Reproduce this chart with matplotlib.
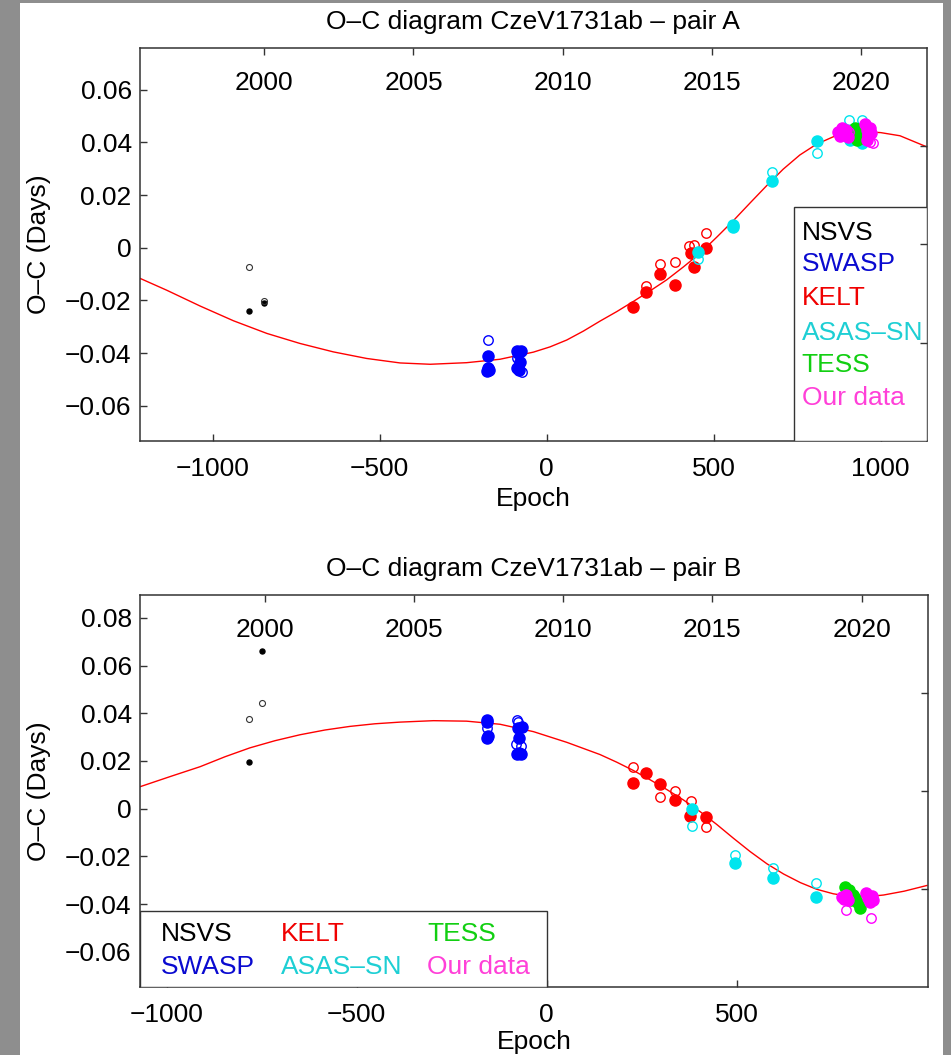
import matplotlib
matplotlib.use('Agg')
import matplotlib.pyplot as plt
from matplotlib.patches import Rectangle

plt.rcParams['font.family'] = ['Liberation Sans', 'DejaVu Sans']
plt.rcParams['font.size'] = 19
plt.rcParams['axes.unicode_minus'] = True

# ---------------- pair A ----------------
a_fit_E = [-1218, -1138, -1038, -938, -838, -739, -639, -539, -439, -349, -240, -140,
           -40, 10, 60, 110, 160, 210, 259, 309, 359, 409, 459, 509, 559, 609, 659,
           708, 758, 808, 858, 898, 938, 1000, 1058, 1138]
a_fit_oc = [-0.0116, -0.0161, -0.0221, -0.0277, -0.0325, -0.0363, -0.0395, -0.0420,
            -0.0437, -0.0442, -0.0436, -0.0423, -0.0396, -0.0376, -0.0350, -0.0316,
            -0.0278, -0.0242, -0.0204, -0.0164, -0.0122, -0.0073, -0.0021, 0.0040,
            0.0103, 0.0170, 0.0236, 0.0298, 0.0352, 0.0393, 0.0421, 0.0435, 0.0441,
            0.0437, 0.0425, 0.0383]

a_nsvs_E = [-893, -848]
a_nsvs_oc = [-0.0239, -0.0211]
a_nsvs2_E = [-893, -848]
a_nsvs2_oc = [-0.0072, -0.0201]

a_swasp_E = [-177, -180, -174, -177, -88, -78, -85, -80, -90, -84]
a_swasp_oc = [-0.0411, -0.0467, -0.0462, -0.0458, -0.0390, -0.0391, -0.0398, -0.0433,
              -0.0458, -0.0463]
a_swasp2_E = [-177, -75, -88]
a_swasp2_oc = [-0.0351, -0.0470, -0.0420]

a_kelt_E = [257, 296, 339, 384, 431, 441, 477]
a_kelt_oc = [-0.0226, -0.0167, -0.0101, -0.0143, -0.0021, -0.0072, 0.0000]
a_kelt2_E = [296, 339, 384, 427, 440, 477]
a_kelt2_oc = [-0.0145, -0.0062, -0.0053, 0.0007, 0.0011, 0.0057]

a_asas_E = [454, 559, 559, 676, 810, 908, 943]
a_asas_oc = [-0.0015, 0.0080, 0.0088, 0.0253, 0.0406, 0.0409, 0.0396]
a_asas2_E = [454, 676, 810, 906, 943]
a_asas2_oc = [-0.0044, 0.0289, 0.0358, 0.0485, 0.0485]

a_tess_E = [922, 928, 935, 942, 946, 930]
a_tess_oc = [0.0455, 0.0438, 0.0425, 0.0445, 0.0415, 0.0410]

a_our_E = [872, 878, 885, 890, 897, 902, 952, 958, 963, 968, 972, 960]
a_our_oc = [0.0440, 0.0425, 0.0455, 0.0432, 0.0445, 0.0420, 0.0470, 0.0445, 0.0425,
            0.0455, 0.0435, 0.0410]
a_our2_E = [968, 977, 905, 958]
a_our2_oc = [0.0402, 0.0398, 0.0440, 0.0430]

# ---------------- pair B ----------------
b_fit_E = [-1070, -990, -912, -846, -781, -715, -649, -583, -518, -452, -386, -298,
           -211, -123, -35, 53, 140, 184, 228, 272, 316, 360, 403, 447, 491, 535, 579,
           623, 667, 710, 754, 790, 824, 856, 886, 940, 1000]
b_fit_oc = [0.0092, 0.0135, 0.0176, 0.0218, 0.0255, 0.0285, 0.0310, 0.0330, 0.0345,
            0.0356, 0.0363, 0.0369, 0.0367, 0.0354, 0.0323, 0.0278, 0.0227, 0.0195,
            0.0160, 0.0121, 0.0080, 0.0036, -0.0012, -0.0066, -0.0124, -0.0180,
            -0.0231, -0.0274, -0.0310, -0.0338, -0.0357, -0.0366, -0.0369, -0.0367,
            -0.0362, -0.0346, -0.0322]

b_nsvs_E = [-748, -783]
b_nsvs_oc = [0.0661, 0.0197]
b_nsvs2_E = [-748, -783]
b_nsvs2_oc = [0.0442, 0.0377]

b_swasp_E = [-158, -158, -158, -155, -66, -75, -72, -79, -68, -73]
b_swasp_oc = [0.0372, 0.0362, 0.0298, 0.0303, 0.0344, 0.0340, 0.0295, 0.0229, 0.0229,
              0.0232]
b_swasp2_E = [-158, -79, -76, -82, -68]
b_swasp2_oc = [0.0337, 0.0372, 0.0362, 0.0271, 0.0264]

b_kelt_E = [226, 261, 298, 338, 377, 418]
b_kelt_oc = [0.0109, 0.0148, 0.0102, 0.0036, -0.0031, -0.0036]
b_kelt2_E = [226, 298, 338, 380, 418]
b_kelt2_oc = [0.0176, 0.0050, 0.0074, 0.0032, -0.0078]

b_asas_E = [383, 496, 595, 708]
b_asas_oc = [-0.0001, -0.0226, -0.0289, -0.0369]
b_asas2_E = [383, 496, 595, 708]
b_asas2_oc = [-0.0071, -0.0194, -0.0250, -0.0310]

b_tess_E = [785, 795, 805, 812, 818, 825, 800, 790]
b_tess_oc = [-0.0330, -0.0340, -0.0360, -0.0375, -0.0395, -0.0415, -0.0385, -0.0350]

b_our_E = [776, 782, 788, 792, 840, 845, 850, 855, 858]
b_our_oc = [-0.0370, -0.0380, -0.0360, -0.0385, -0.0355, -0.0375, -0.0390, -0.0365,
            -0.0385]
b_our2_E = [788, 853]
b_our2_oc = [-0.0425, -0.0457]

names = ['NSVS', 'SWASP', 'KELT', 'ASAS\u2013SN', 'TESS', 'Our data']
mark_col = ['k', '#0000ff', '#ff0000', '#00e5ee', '#00dd00', '#ff00ff']
text_col = ['k', '#0a0ad0', '#f00000', '#1ecfd4', '#12cf12', '#ff40d8']
years = [2000, 2005, 2010, 2015, 2020]
year_lim = (1995.83, 2022.21)

axcol = '#333333'

fig = plt.figure(figsize=(9.51, 10.55), dpi=100, facecolor='#8e8e8e')
fig.add_artist(Rectangle((20 / 951, 0), 923 / 951, 1052 / 1055, transform=fig.transFigure,
                         facecolor='white', edgecolor='none', zorder=-1))


def draw_panel(rect, title, xlim, ylim, yticks, xticks, fit, series, legend_layout,
               xlab_y):
    ax = fig.add_axes(rect)
    ax.plot(fit[0], fit[1], color='r', lw=1.0, zorder=1)
    for i, (fE, fO, oE, oO) in enumerate(series):
        small = i == 0
        c = mark_col[i]
        if fE is not None:
            ax.plot(fE, fO, 'o', ls='none', color=c, mec=c,
                    ms=3.6 if small else 8.0, zorder=2)
        if oE is not None:
            ax.plot(oE, oO, 'o', ls='none', mfc='none', mec='#333333' if small else c,
                    ms=4.3 if small else 6.8, mew=0.8 if small else 1.0, zorder=2)
    ax.set_xlim(*xlim)
    ax.set_ylim(*ylim)
    ax.set_xticks(xticks)
    ax.set_yticks(yticks)
    ax.set_yticklabels(['0' if abs(v) < 1e-9 else ('%.2f' % v).replace('-', '\u2212')
                        for v in yticks])
    ax.tick_params(axis='both', direction='in', length=5.3, width=1.0, color=axcol,
                   labelcolor='k', top=False, right=False)
    ax.tick_params(axis='x', pad=11.5)
    ax.tick_params(axis='y', pad=6)
    for s in ax.spines.values():
        s.set_color(axcol)
        s.set_linewidth(1.1)
    ax.set_title(title, y=1.0, pad=14.0, fontsize=19)
    ax.set_xlabel('Epoch')
    ax.set_ylabel('O\u2013C (Days)')
    ax.xaxis.set_label_coords(0.5, xlab_y)
    ax.yaxis.set_label_coords(-0.113, 0.5)

    # colour-coded source list
    (bx, by, bw, bh), tx, ty = legend_layout
    ax.add_patch(Rectangle((bx, by), bw, bh, transform=ax.transAxes, facecolor='white',
                           edgecolor=axcol, lw=1.0, zorder=3))
    for i, n in enumerate(names):
        ax.text(tx[i], ty[i], n, color=text_col[i], transform=ax.transAxes,
                ha='left', va='center', zorder=4)

    # calendar years on top, plain ticks on the right
    top = fig.add_axes(rect, label=title + ' years', facecolor='none')
    top.set_xlim(*year_lim)
    top.set_ylim(0, 1)
    top.xaxis.tick_top()
    top.yaxis.tick_right()
    top.set_xticks(years)
    top.set_yticks([0.25, 0.5, 0.75])
    top.set_yticklabels([])
    top.tick_params(axis='both', direction='in', length=5.3, width=1.0, color=axcol,
                    labelcolor='k')
    top.tick_params(axis='x', pad=-33.7)
    for s in top.spines.values():
        s.set_visible(False)
    top.patch.set_visible(False)
    return ax


series_a = [(a_nsvs_E, a_nsvs_oc, a_nsvs2_E, a_nsvs2_oc),
            (a_swasp_E, a_swasp_oc, a_swasp2_E, a_swasp2_oc),
            (a_kelt_E, a_kelt_oc, a_kelt2_E, a_kelt2_oc),
            (a_asas_E, a_asas_oc, a_asas2_E, a_asas2_oc),
            (a_tess_E, a_tess_oc, None, None),
            (a_our_E, a_our_oc, a_our2_E, a_our2_oc)]
series_b = [(b_nsvs_E, b_nsvs_oc, b_nsvs2_E, b_nsvs2_oc),
            (b_swasp_E, b_swasp_oc, b_swasp2_E, b_swasp2_oc),
            (b_kelt_E, b_kelt_oc, b_kelt2_E, b_kelt2_oc),
            (b_asas_E, b_asas_oc, b_asas2_E, b_asas2_oc),
            (b_tess_E, b_tess_oc, None, None),
            (b_our_E, b_our_oc, b_our2_E, b_our2_oc)]

leg_a = ((0.8317, 0.0, 0.1683, 0.5959), [0.8411] * 6,
         [0.530, 0.449, 0.364, 0.275, 0.194, 0.110])
draw_panel([140 / 951, 1 - 440.7 / 1055, 786.7 / 951, 392.7 / 1055],
           'O\u2013C diagram CzeV1731ab \u2013 pair A', (-1218, 1138), (-0.0732, 0.0758),
           [-0.06, -0.04, -0.02, 0, 0.02, 0.04, 0.06], [-1000, -500, 0, 500, 1000],
           (a_fit_E, a_fit_oc), series_a, leg_a, -0.118)

leg_b = ((0.0, 0.0, 0.5163, 0.1953), [0.0263, 0.0263, 0.179, 0.179, 0.3649, 0.3649],
         [0.135, 0.053, 0.135, 0.053, 0.135, 0.053])
draw_panel([140 / 951, 1 - 987.3 / 1055, 787.7 / 951, 392.3 / 1055],
           'O\u2013C diagram CzeV1731ab \u2013 pair B', (-1070, 1002), (-0.0749, 0.0896),
           [-0.06, -0.04, -0.02, 0, 0.02, 0.04, 0.06, 0.08], [-1000, -500, 0, 500],
           (b_fit_E, b_fit_oc), series_b, leg_b, -0.110)

fig.savefig('out.png', dpi=100, facecolor=fig.get_facecolor())
